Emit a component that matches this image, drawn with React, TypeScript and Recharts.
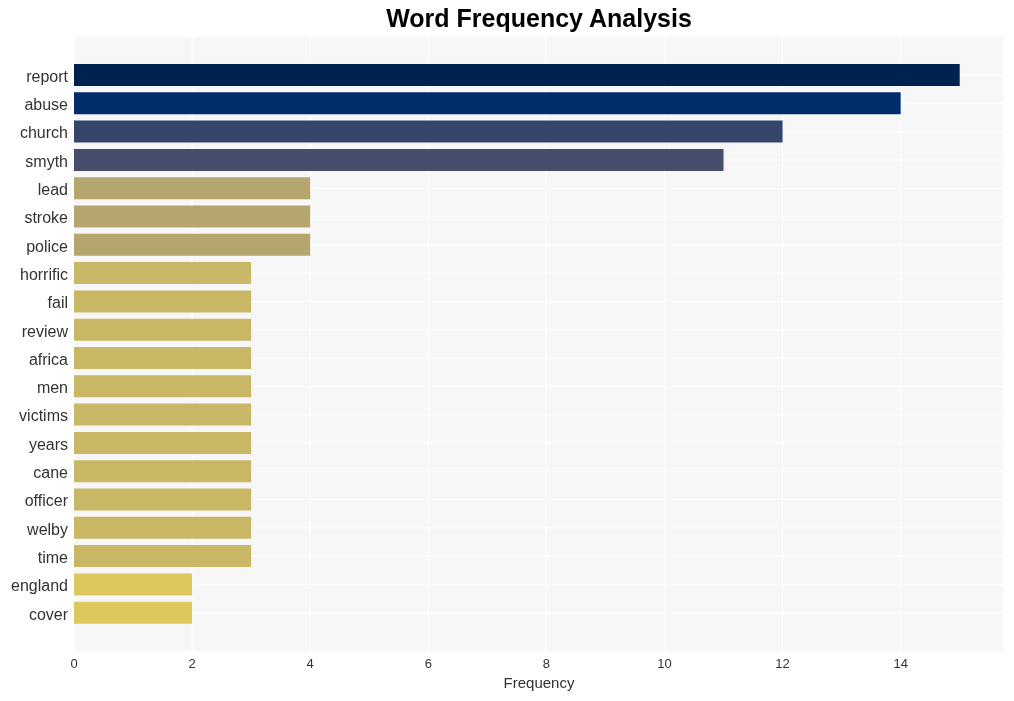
import { BarChart, Bar, XAxis, YAxis, CartesianGrid, Cell } from 'recharts'

const words = ['report', 'abuse', 'church', 'smyth', 'lead', 'stroke', 'police', 'horrific', 'fail', 'review', 'africa', 'men', 'victims', 'years', 'cane', 'officer', 'welby', 'time', 'england', 'cover']
const counts = [15, 14, 12, 11, 4, 4, 4, 3, 3, 3, 3, 3, 3, 3, 3, 3, 3, 3, 2, 2]
const barColors = ['#00224e', '#002c6b', '#35456c', '#464e6b', '#b4a66e', '#b4a66e', '#b4a66e', '#c8b866', '#c8b866', '#c8b866', '#c8b866', '#c8b866', '#c8b866', '#c8b866', '#c8b866', '#c8b866', '#c8b866', '#c8b866', '#ddc85c', '#ddc85c']
const xTicks = [0, 2, 4, 6, 8, 10, 12, 14]

const data = words.map((w, i) => ({ word: w, count: counts[i] }))

export default function App() {
  return (
    <div style={{ position: 'fixed', left: 0, top: 0, width: 1014, height: 701, background: '#fff', fontFamily: '"Liberation Sans", Arial, sans-serif' }}>
      <div style={{ position: 'absolute', top: 4, left: 0, width: 1078, textAlign: 'center', fontSize: 25, fontWeight: 'bold', color: '#000' }}>
        Word Frequency Analysis
      </div>
      <BarChart width={1014} height={701} layout="vertical" data={data} margin={{ top: 36, right: 10, bottom: 0, left: 0 }}>
        <CartesianGrid fill="#f7f7f7" stroke="#ffffff" strokeWidth={1} />
        <XAxis
          type="number"
          domain={[0, 15.75]}
          ticks={xTicks}
          height={49}
          tickLine={false}
          axisLine={false}
          tickSize={0}
          tickMargin={7}
          tick={{ fill: '#333', fontSize: 13 }}
          label={{ value: 'Frequency', position: 'insideBottom', offset: 13, fill: '#333', fontSize: 15 }}
        />
        <YAxis
          type="category"
          dataKey="word"
          width={74}
          tickLine={false}
          axisLine={false}
          tickSize={0}
          tickMargin={6}
          padding={{ top: 25, bottom: 25 }}
          interval={0}
          tick={{ fill: '#333', fontSize: 16, dy: 1 }}
        />
        <Bar dataKey="count" barSize={22} isAnimationActive={false}>
          {data.map((d, i) => (
            <Cell key={d.word} fill={barColors[i]} />
          ))}
        </Bar>
      </BarChart>
    </div>
  )
}
